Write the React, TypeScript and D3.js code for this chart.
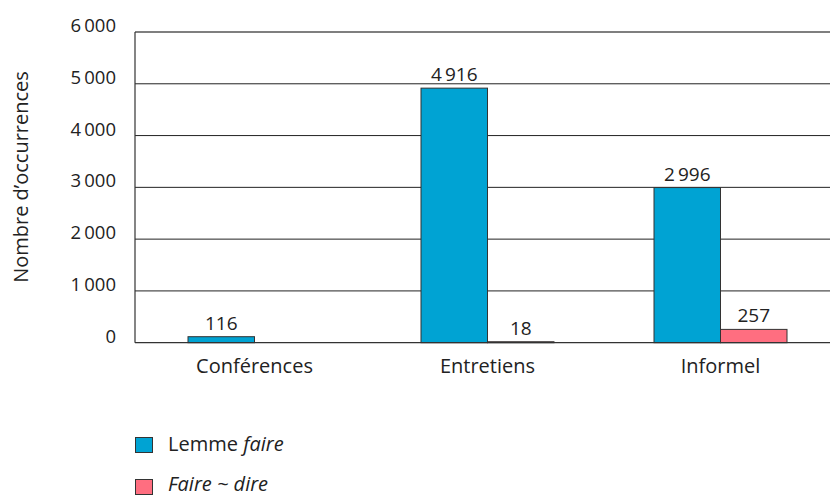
import React from "react";
import * as d3 from "d3";

const categories = ["Conférences", "Entretiens", "Informel"];
const seriesNames = ["lemme", "fairedire"];
const lemmeValues = [116, 4916, 2996];
const faireDireValues = [0, 18, 257];
const valueLabels = [["116", "4\u2009916", "2\u2009996"], ["", "18", "257"]];
const yTicks = [0, 1000, 2000, 3000, 4000, 5000, 6000];
const colors = ["#00a3d3", "#ff6e80"];

const W = 830;
const H = 495;
const FONT = "'Open Sans', sans-serif";

export default function App() {
  const y = d3.scaleLinear().domain([0, 6000]).range([342.7, 32]);
  const x = d3.scaleBand<string>().domain(categories).range([138, 837]).padding(0);
  const xs = d3.scaleBand<string>().domain(seriesNames).range([50, 183]).padding(0);
  const series = [lemmeValues, faireDireValues];
  const fmt = (v: number) => (v >= 1000 ? d3.format(",")(v).replace(",", "\u2009") : String(v));

  return (
    <div style={{ position: "absolute", left: 0, top: 0 }}>
      <svg width={W} height={H} style={{ display: "block", fontFamily: FONT }}>
        <rect width={W} height={H} fill="#fff" />
        {yTicks.map((t) => (
          <g key={t}>
            {t > 0 && (
              <line x1={135} x2={W} y1={y(t)} y2={y(t)} stroke={t === 6000 ? "#555" : "#222"} strokeWidth={t === 6000 ? 1.4 : 1} />
            )}
            <text x={116} y={y(t)} textAnchor="end" fontSize={18.5} fill="#222">
              {fmt(t)}
            </text>
          </g>
        ))}
        {series.map((vals, si) =>
          categories.map((c, ci) => {
            const v = vals[ci];
            if (v <= 0) return null;
            const bx = (x(c) as number) + (xs(seriesNames[si]) as number);
            const bw = xs.bandwidth();
            return (
              <g key={`${si}-${ci}`}>
                <rect x={bx} y={y(v)} width={bw} height={y(0) - y(v)} fill={si === 1 && v < 50 ? "#5a1a22" : colors[si]} stroke="#333" strokeWidth={1} />
                <text x={bx + bw / 2} y={y(v) - 7} textAnchor="middle" fontSize={19} fill="#222">
                  {valueLabels[si][ci]}
                </text>
              </g>
            );
          })
        )}
        <line x1={135} x2={135} y1={32} y2={y(0)} stroke="#333" strokeWidth={1.2} />
        <line x1={135} x2={W} y1={y(0)} y2={y(0)} stroke="#333" strokeWidth={1.2} />
        {categories.map((c) => (
          <text key={c} x={(x(c) as number) + x.bandwidth() / 2} y={373} textAnchor="middle" fontSize={20} fill="#222">
            {c}
          </text>
        ))}
        <text transform={`translate(28,177) rotate(-90)`} textAnchor="middle" fontSize={20} fill="#222">
          Nombre d’occurrences
        </text>
        <rect x={135.5} y={437.5} width={17} height={15} fill={colors[0]} stroke="#333" strokeWidth={1} />
        <text x={168} y={451} fontSize={20} fill="#222">
          Lemme <tspan fontStyle="italic">faire</tspan>
        </text>
        <rect x={135.5} y={479.5} width={17} height={15} fill={colors[1]} stroke="#333" strokeWidth={1} />
        <text x={168} y={491} fontSize={20} fill="#222" fontStyle="italic">
          Faire ~ dire
        </text>
      </svg>
    </div>
  );
}
